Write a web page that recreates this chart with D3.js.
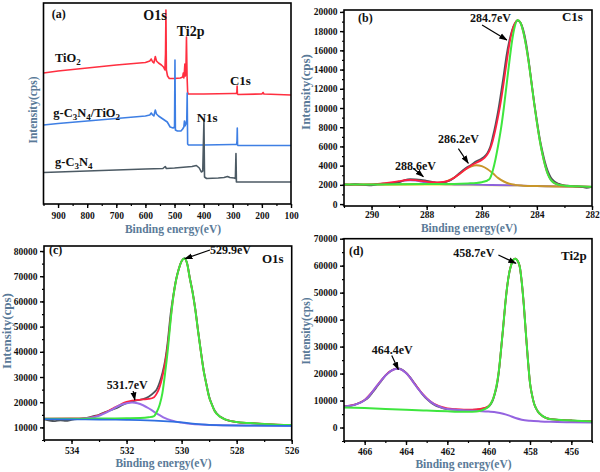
<!DOCTYPE html>
<html><head><meta charset="utf-8">
<script src="https://cdn.jsdelivr.net/npm/d3@7"></script>
<style>
body{margin:0;background:#fff;}
svg text{font-family:"Liberation Serif","Times New Roman",serif;font-weight:bold;}
</style></head><body>
<svg id="chart" width="600" height="472"></svg>
<script>
// ---------------- DATA ----------------
// (a) survey spectra, arbitrary intensity units [binding energy eV, intensity]
const surveyTiO2 = [[950,131],[900,133],[800,136],[700,139],[600,141.5],[585,143],[580,145],[575,142],[571,141],[566,147.5],[562,143],[555,141],[545,139],[538,137],[533,134],[531,150],[529.5,194],[528,134],[524,128],[518,125.5],[500,125.5],[480,126],[472,127],[470,131],[468,126],[466,133],[464.5,140],[463,128],[461,131],[459,167],[457,128],[455,112],[453,110],[400,110],[300,110.5],[288,110.5],[286,112],[285,118],[284,110],[282,109.5],[200,110],[196,111.5],[193,110],[100,109]];
const surveyComposite = [[950,79],[900,80.5],[800,83],[700,85.5],[600,88],[585,89],[580,91],[575,89],[571,88],[566,94],[562,90],[555,88],[545,86],[535,84],[525,82],[515,77],[505,76],[500,77],[498.5,144],[497,74],[490,73],[478,73],[472,75],[468,77],[466,83],[464,78],[461,80],[458,84],[456.5,111],[455,60],[452,59],[400,59],[300,59.5],[287,59.5],[285.5,63],[284.5,76],[283.5,59],[282,58.5],[200,58.5],[100,58.5]];
const surveyCN = [[950,31.5],[900,32],[800,33],[700,34],[600,35],[540,35.5],[532,37.5],[528,35.5],[500,36],[460,37],[440,37.5],[425,38.5],[415,36],[408,32],[403,33],[399,84],[397,27],[390,25.5],[350,26],[330,26.5],[318,27.5],[310,26.5],[295,26],[291,25.5],[289,50.5],[287.5,22],[280,22],[200,22],[100,22]];

// (b) C1s
const c1sRaw = [[291.0,2050],[290.8,2000],[290.6,2080],[290.4,2020],[290.2,1980],[290.0,1960],[289.8,2080],[289.6,2120],[289.4,2150],[289.2,2200],[289.0,2280],[288.8,2500],[288.6,2600],[288.4,2580],[288.2,2520],[288.0,2420],[287.8,2320],[287.6,2230],[287.4,2260],[287.2,2400],[287.0,2750],[286.8,3250],[286.6,3700],[286.4,4050],[286.2,4450],[286.0,4750],[285.9,4950],[285.8,5300],[285.7,5900],[285.6,7000],[285.5,8300],[285.4,9800],[285.3,11600],[285.2,13500],[285.1,15500],[285.0,17000],[284.9,18100],[284.8,18800],[284.7,19100],[284.6,18900],[284.5,18200],[284.4,16900],[284.3,15000],[284.2,12800],[284.1,10600],[284.0,8700],[283.9,6900],[283.8,5500],[283.7,4300],[283.6,3400],[283.5,2800],[283.4,2450],[283.2,2100],[283.0,1950],[282.8,1900],[282.6,1850],[282.4,1800],[282.2,1700],[282.0,1800]];
const c1sEnvelope = [[291,2020],[290.5,2030],[290,2050],[289.6,2150],[289.3,2250],[289.0,2380],[288.8,2480],[288.6,2520],[288.4,2500],[288.2,2420],[288.0,2330],[287.8,2270],[287.6,2260],[287.4,2300],[287.2,2450],[287.0,2750],[286.8,3150],[286.6,3600],[286.4,4000],[286.2,4300],[286.0,4600],[285.9,4800],[285.8,5150],[285.7,5700],[285.6,6600],[285.5,7800],[285.4,9200],[285.3,10800],[285.2,12700],[285.1,14700],[285.0,16600],[284.9,18000],[284.8,18800],[284.7,19150],[284.6,18900],[284.5,18000],[284.4,16600],[284.3,14800],[284.2,12700],[284.1,10500],[284.0,8500],[283.9,6700],[283.8,5200],[283.7,4000],[283.6,3100],[283.5,2550],[283.4,2250],[283.2,2000],[283.0,1920],[282.5,1850],[282.0,1800]];
const c1sPeak1 = [[291,2050],[290,2050],[289,2060],[288,2080],[287,2100],[286.5,2150],[286.2,2200],[286.0,2280],[285.9,2350],[285.8,2450],[285.7,2700],[285.6,3500],[285.5,4700],[285.4,6200],[285.3,7900],[285.2,10000],[285.1,12400],[285.0,14800],[284.9,17000],[284.8,18500],[284.7,19150],[284.6,18900],[284.5,18000],[284.4,16600],[284.3,14800],[284.2,12700],[284.1,10500],[284.0,8500],[283.9,6700],[283.8,5200],[283.7,4000],[283.6,3100],[283.5,2550],[283.4,2250],[283.2,2000],[283.0,1920],[282.5,1850],[282.0,1800]];
const c1sPeak2 = [[291,2050],[290,2050],[289,2060],[288,2080],[287.6,2130],[287.4,2250],[287.2,2450],[287.0,2750],[286.8,3150],[286.6,3600],[286.4,3900],[286.2,4050],[286.0,3950],[285.8,3650],[285.6,3200],[285.4,2700],[285.2,2350],[285.0,2120],[284.8,2000],[284.5,1920],[284.0,1870],[283.0,1820],[282.0,1790]];
const c1sPeak3 = [[291,2000],[290,2000],[289.6,2050],[289.3,2180],[289.0,2330],[288.8,2430],[288.6,2470],[288.4,2440],[288.2,2340],[288.0,2220],[287.7,2100],[287.3,2050],[287,2040],[286,2000],[285,1960],[284.5,1930],[284,1880],[283,1830],[282,1800]];
const c1sBackground = [[291,1980],[288,1980],[286,1960],[285,1930],[284,1870],[283,1820],[282,1790]];

// (c) O1s
const o1sRaw = [[535.0,13200],[534.8,12700],[534.6,12500],[534.4,12800],[534.2,12600],[534.0,13000],[533.8,13300],[533.6,13500],[533.4,13900],[533.2,14500],[533.0,15000],[532.8,16000],[532.6,16800],[532.4,17500],[532.2,18600],[532.0,19600],[531.8,20300],[531.6,20800],[531.4,21200],[531.2,22200],[531.0,23900],[530.9,25200],[530.8,27800],[530.7,31500],[530.6,36500],[530.5,44500],[530.4,55000],[530.3,62500],[530.2,68800],[530.1,73000],[530.0,76000],[529.9,77200],[529.8,75200],[529.7,69300],[529.6,63800],[529.5,56800],[529.4,48300],[529.3,40300],[529.2,32800],[529.1,27300],[529.0,22300],[528.9,19200],[528.8,16700],[528.6,14300],[528.4,13100],[528.0,12100],[527.5,11700],[527.0,11300],[526.5,11000],[526.0,10900]];
const o1sEnvelope = [[535,13500],[534,13550],[533.5,13700],[533.2,14200],[533.0,14900],[532.8,15800],[532.5,17500],[532.2,19200],[532.0,20100],[531.8,20600],[531.6,20900],[531.4,21100],[531.2,21300],[531.0,22000],[530.9,23500],[530.8,26000],[530.7,30000],[530.6,35500],[530.5,43000],[530.4,53000],[530.3,62000],[530.2,68500],[530.1,73000],[530.0,76000],[529.9,77000],[529.8,75000],[529.7,69000],[529.6,63500],[529.5,56500],[529.4,48000],[529.3,40000],[529.2,32500],[529.1,27000],[529.0,22000],[528.9,19000],[528.8,16500],[528.6,14200],[528.4,13100],[528.0,12100],[527.5,11700],[527.0,11400],[526.5,11100],[526.0,11000]];
const o1sPeak1 = [[535,13400],[534,13450],[533,13500],[532,13600],[531.5,13700],[531.2,14000],[531.0,14500],[530.9,16200],[530.8,18900],[530.7,23500],[530.6,31500],[530.5,41000],[530.4,52500],[530.3,62000],[530.2,68500],[530.1,73000],[530.0,76000],[529.9,77000],[529.8,75000],[529.7,69000],[529.6,63500],[529.5,56500],[529.4,48000],[529.3,40000],[529.2,32500],[529.1,27000],[529.0,22000],[528.9,19000],[528.8,16500],[528.6,14200],[528.4,13100],[528.0,12100],[527.5,11700],[527.0,11400],[526.5,11100],[526.0,11000]];
const o1sPeak2 = [[535,13300],[534,13300],[533.5,13500],[533.2,14000],[533.0,14600],[532.8,15600],[532.5,17260],[532.2,19000],[532.0,19600],[531.8,19900],[531.6,19600],[531.4,18800],[531.2,17600],[531.0,16200],[530.8,14900],[530.6,13700],[530.4,12900],[530.2,12300],[530.0,11900],[529.6,11300],[529.0,11000],[528.5,10850],[527.5,10750],[526,10650]];
const o1sBackground = [[535,13300],[534,13200],[533,13100],[532,13000],[531.5,12900],[531,12700],[530.5,12400],[530,12000],[529.5,11400],[529,11000],[528.5,10800],[527.5,10700],[526,10600]];

// (d) Ti2p
const ti2pRaw = [[467.0,7800],[466.8,8000],[466.6,8200],[466.4,8700],[466.2,9300],[466.0,10100],[465.8,11300],[465.6,13200],[465.4,15200],[465.2,17200],[465.0,19200],[464.8,20600],[464.6,21500],[464.4,21900],[464.2,21500],[464.0,20300],[463.8,18600],[463.6,16500],[463.4,14300],[463.2,12300],[463.0,10600],[462.8,9300],[462.6,8300],[462.4,7600],[462.2,7100],[462.0,6800],[461.6,6600],[461.2,6450],[460.8,6500],[460.4,6800],[460.2,7100],[460.0,7800],[459.9,8600],[459.8,10000],[459.7,12500],[459.6,15500],[459.5,21000],[459.4,29000],[459.3,37000],[459.2,45500],[459.1,52500],[459.0,57500],[458.9,60500],[458.8,62200],[458.7,62600],[458.6,61800],[458.5,59800],[458.4,54000],[458.3,45500],[458.2,35000],[458.1,25000],[458.0,16500],[457.9,12000],[457.8,8800],[457.7,7000],[457.6,5700],[457.4,4300],[457.2,3500],[457.0,3100],[456.5,2800],[456.0,2600],[455.5,2400],[455.0,2250]];
const ti2pEnvelope = [[467,7800],[466.5,8450],[466,10250],[465.6,13550],[465.2,17450],[464.8,20650],[464.4,21850],[464,20250],[463.6,16400],[463.2,12500],[462.8,9600],[462.4,7900],[462.0,7100],[461.6,6800],[461.2,6650],[460.8,6650],[460.4,6900],[460.2,7300],[460.0,8000],[459.8,10400],[459.7,12800],[459.6,16300],[459.5,21500],[459.4,28900],[459.3,37000],[459.2,45500],[459.1,52500],[459.0,57500],[458.9,60500],[458.8,62200],[458.7,62600],[458.6,61800],[458.5,59800],[458.4,54000],[458.3,45500],[458.2,35000],[458.1,25000],[458.0,16500],[457.9,12000],[457.8,8800],[457.7,7000],[457.6,5700],[457.4,4300],[457.2,3500],[457.0,3100],[456.5,2800],[456,2600],[455.5,2400],[455,2250]];
const ti2p12 = [[467,7800],[466.8,8000],[466.5,8400],[466.2,9200],[466.0,10200],[465.8,11600],[465.6,13500],[465.4,15500],[465.2,17400],[465.0,19200],[464.8,20600],[464.6,21500],[464.4,21800],[464.2,21400],[464.0,20200],[463.8,18500],[463.6,16300],[463.4,14200],[463.2,12400],[463.0,10800],[462.8,9500],[462.6,8500],[462.4,7800],[462.2,7200],[462.0,6900],[461.6,6600],[461.0,6300],[460.5,6100],[460.0,5900],[459.6,5600],[459.3,5100],[459.0,4400],[458.7,3500],[458.4,2900],[458.0,2500],[457.5,2250],[457,2100],[456,1950],[455,1850]];
const ti2p32 = [[467,7400],[466,7200],[465,6900],[464,6600],[463,6300],[462,6000],[461.5,5850],[461,5800],[460.6,5900],[460.4,6200],[460.2,6800],[460.0,7800],[459.9,8800],[459.8,10300],[459.7,12800],[459.6,16300],[459.5,21500],[459.4,28900],[459.3,37000],[459.2,45500],[459.1,52500],[459.0,57500],[458.9,60500],[458.8,62200],[458.7,62600],[458.6,61800],[458.5,59800],[458.4,54000],[458.3,45500],[458.2,35000],[458.1,25000],[458.0,16500],[457.9,12000],[457.8,8800],[457.7,7000],[457.6,5700],[457.4,4300],[457.2,3500],[457.0,3100],[456.5,2800],[456,2600],[455.5,2400],[455,2250]];

// tick labels
const surveyTicksX = [900,800,700,600,500,400,300,200,100];
const c1sTicksX = [290,288,286,284,282];
const c1sTicksY = [0,2000,4000,6000,8000,10000,12000,14000,16000,18000,20000];
const o1sTicksX = [534,532,530,528,526];
const o1sTicksY = [10000,20000,30000,40000,50000,60000,70000,80000];
const ti2pTicksX = [466,464,462,460,458,456];
const ti2pTicksY = [0,10000,20000,30000,40000,50000,60000,70000];

// text labels
const xTitle = "Binding energy(eV)";
const yTitle = "Intensity(cps)";
const sampleLabels = [
  {parts:[["TiO",0],["2",1]], e:910.5, v:142},
  {parts:[["g-C",0],["3",1],["N",0],["4",1],["/TiO",0],["2",1]], e:916.3, v:87},
  {parts:[["g-C",0],["3",1],["N",0],["4",1]], e:910.5, v:38}
];
const surveyPeakLabels = [
  {t:"(a)", e:921.8, v:186, size:12},
  {t:"O1s", e:607.3, v:184.5, size:14},
  {t:"Ti2p", e:492.6, v:168, size:14},
  {t:"C1s", e:309.5, v:119.3, size:13},
  {t:"N1s", e:423.9, v:82.5, size:13}
];
const c1sLabels = [
  {t:"(b)", e:290.49, v:18950}, {t:"C1s", e:283.09, v:19050, size:13},
  {t:"284.7eV", e:286.43, v:18950, a:[285.99,18640,285.09,17080]},
  {t:"286.2eV", e:287.59, v:6365, a:[286.85,5780,286.49,4250]},
  {t:"288.6eV", e:289.15, v:3557, a:[288.49,3733,288.12,2860]}
];
const o1sLabels = [
  {t:"(c)", e:534.82, v:78824}, {t:"O1s", e:527.08, v:75252, size:13},
  {t:"529.9eV", e:528.97, v:78824, a:[528.97,80411,529.88,76958]},
  {t:"531.7eV", e:532.72, v:25240, a:[531.76,24450,531.7,20880]}
];
const ti2pLabels = [
  {t:"(d)", e:466.76, v:64087}, {t:"Ti2p", e:456.5, v:62240, size:13},
  {t:"458.7eV", e:461.71, v:63350, a:[459.53,63980,458.68,60880]},
  {t:"464.4eV", e:465.66, v:27140, a:[464.69,26660,464.37,21490]}
];

// ---------------- LAYOUT / STYLE ----------------
const svg = d3.select("#chart");
const titleColor = "#5a7a98";
const defs = svg.append("defs");
defs.append("marker").attr("id","arr").attr("viewBox","0 0 10 10").attr("refX",9).attr("refY",5)
  .attr("markerWidth",7).attr("markerHeight",7).attr("orient","auto-start-reverse")
  .append("path").attr("d","M0,1.5 L10,5 L0,8.5 Z").attr("fill","#000");

const panels = [
  {id:"a", box:[43.5,291,3,204], xd:[950,100], yd:[0,201], xt:surveyTicksX, xm:d3.range(950,99,-50), yt:null,
   xTitle:[173,232.5], yTitle:[33,110,11.5], tick:9.5, xpad:4.5, curve:d3.curveLinear,
   series:[[surveyTiO2,"#ff2f40",1.6],[surveyComposite,"#3e7fe4",1.6],[surveyCN,"#4c5a64",1.6]]},
  {id:"b", box:[344,592,10,206], xd:[291,282], yd:[-200,20200], xt:c1sTicksX, xm:d3.range(291,281.5,-1), yt:c1sTicksY, ym:d3.range(0,20001,1000),
   xTitle:[469,232], yTitle:[305,92,13], tick:9.5, xpad:1, curve:d3.curveMonotoneX,
   series:[[c1sBackground,"#f0ee90",1.8],[c1sPeak3,"#8c62dc",1.8],[c1sPeak2,"#c8962a",2],[c1sRaw,"#4e535a",1.8],[c1sEnvelope,"#ff2040",1.8],[c1sPeak1,"#3ee63e",2]],
   labels:c1sLabels},
  {id:"c", box:[44,291.7,246,440], xd:[535,526], yd:[5000,82000], xt:o1sTicksX, xm:d3.range(535,525.5,-1), yt:o1sTicksY, ym:d3.range(5000,82001,5000),
   xTitle:[163.5,466.5], yTitle:[6,331,13], tick:9.5, xpad:3, curve:d3.curveMonotoneX,
   series:[[o1sRaw,"#4e535a",1.8],[o1sEnvelope,"#ff2040",1.8],[o1sPeak2,"#9a6ee6",2],[o1sPeak1,"#3ee63e",2],[o1sBackground,"#2f6fe0",1.6]],
   labels:o1sLabels},
  {id:"d", box:[344,592,238.7,441], xd:[467,455], yd:[-5000,70000], xt:ti2pTicksX, xm:d3.range(467,454.5,-1), yt:ti2pTicksY, ym:d3.range(-5000,70001,5000),
   xTitle:[463.5,467.5], yTitle:[306,331,11.5], tick:9.5, xpad:3, curve:d3.curveMonotoneX,
   series:[[ti2pRaw,"#4e535a",1.8],[ti2pEnvelope,"#ff2040",1.8],[ti2p12,"#9463e0",2],[ti2p32,"#3ee63e",2]],
   labels:ti2pLabels}
];

panels.forEach(p => {
  const [x0,x1,y0,y1] = p.box;
  const x = d3.scaleLinear().domain(p.xd).range([x0,x1]);
  const y = d3.scaleLinear().domain(p.yd).range([y1,y0]);
  const g = svg.append("g");
  const clipId = "clip"+p.id;
  defs.append("clipPath").attr("id",clipId).append("rect").attr("x",x0).attr("y",y0).attr("width",x1-x0).attr("height",y1-y0);

  const line = d3.line().x(d=>x(d[0])).y(d=>y(d[1])).curve(p.curve);
  const sg = g.append("g").attr("clip-path",`url(#${clipId})`);
  p.series.forEach(([data,color,w]) => {
    sg.append("path").datum(data).attr("d",line).attr("fill","none").attr("stroke",color)
      .attr("stroke-width",w).attr("stroke-linejoin","round");
  });

  // x axis
  const xa = g.append("g").attr("transform",`translate(0,${y1})`)
    .call(d3.axisBottom(x).tickValues(p.xt).tickSize(4).tickSizeOuter(0).tickPadding(p.xpad).tickFormat(d3.format("d")));
  xa.select(".domain").remove();
  xa.selectAll("text").attr("font-size",p.tick).attr("fill","#111").style("font-family","Liberation Serif").style("font-weight","bold");
  xa.selectAll("line").attr("stroke-width",1.4);
  const xm = g.append("g").attr("transform",`translate(0,${y1})`)
    .call(d3.axisBottom(x).tickValues(p.xm).tickSize(2).tickSizeOuter(0).tickFormat(""));
  xm.select(".domain").remove();
  xm.selectAll("line").attr("stroke-width",1.2);

  if (p.yt) {
    const ya = g.append("g").attr("transform",`translate(${x0},0)`)
      .call(d3.axisLeft(y).tickValues(p.yt).tickSize(4).tickSizeOuter(0).tickPadding(2.5).tickFormat(d3.format("d")));
    ya.select(".domain").remove();
    ya.selectAll("text").attr("font-size",p.tick).attr("fill","#111").style("font-family","Liberation Serif").style("font-weight","bold");
    ya.selectAll("line").attr("stroke-width",1.4);
    const ym = g.append("g").attr("transform",`translate(${x0},0)`)
      .call(d3.axisLeft(y).tickValues(p.ym).tickSize(2).tickSizeOuter(0).tickFormat(""));
    ym.select(".domain").remove();
    ym.selectAll("line").attr("stroke-width",1.2);
  }

  g.append("rect").attr("x",x0).attr("y",y0).attr("width",x1-x0).attr("height",y1-y0)
    .attr("fill","none").attr("stroke","#000").attr("stroke-width",1.6);

  g.append("text").attr("x",p.xTitle[0]).attr("y",p.xTitle[1]).attr("text-anchor","middle")
    .attr("font-size",11.5).attr("fill",titleColor).text(xTitle);
  g.append("text").attr("transform",`translate(${p.yTitle[0]},${p.yTitle[1]}) rotate(-90)`)
    .attr("text-anchor","middle").attr("dominant-baseline","central")
    .attr("font-size",p.yTitle[2]).attr("fill",titleColor).text(yTitle);

  if (p.labels) {
    p.labels.forEach(l => {
      g.append("text").attr("x",x(l.e)).attr("y",y(l.v)).attr("font-size",l.size||12).attr("fill","#111").text(l.t);
      if (l.a) {
        g.append("line").attr("x1",x(l.a[0])).attr("y1",y(l.a[1])).attr("x2",x(l.a[2])).attr("y2",y(l.a[3]))
          .attr("stroke","#000").attr("stroke-width",1.2).attr("marker-end","url(#arr)");
      }
    });
  }

  if (p.id === "a") {
    surveyPeakLabels.forEach(l => {
      g.append("text").attr("x",x(l.e)).attr("y",y(l.v)).attr("font-size",l.size).attr("fill","#111").text(l.t);
    });
    sampleLabels.forEach(l => {
      const t = g.append("text").attr("x",x(l.e)).attr("y",y(l.v)).attr("font-size",12.5).attr("fill","#111");
      let sub = 0;
      l.parts.forEach(([s,isSub]) => {
        const ts = t.append("tspan").text(s);
        if (isSub && !sub) { ts.attr("dy",3).attr("font-size",9); sub = 1; }
        else if (isSub && sub) { ts.attr("font-size",9); }
        else if (!isSub && sub) { ts.attr("dy",-3); sub = 0; }
      });
    });
  }
});
</script>
</body></html>
